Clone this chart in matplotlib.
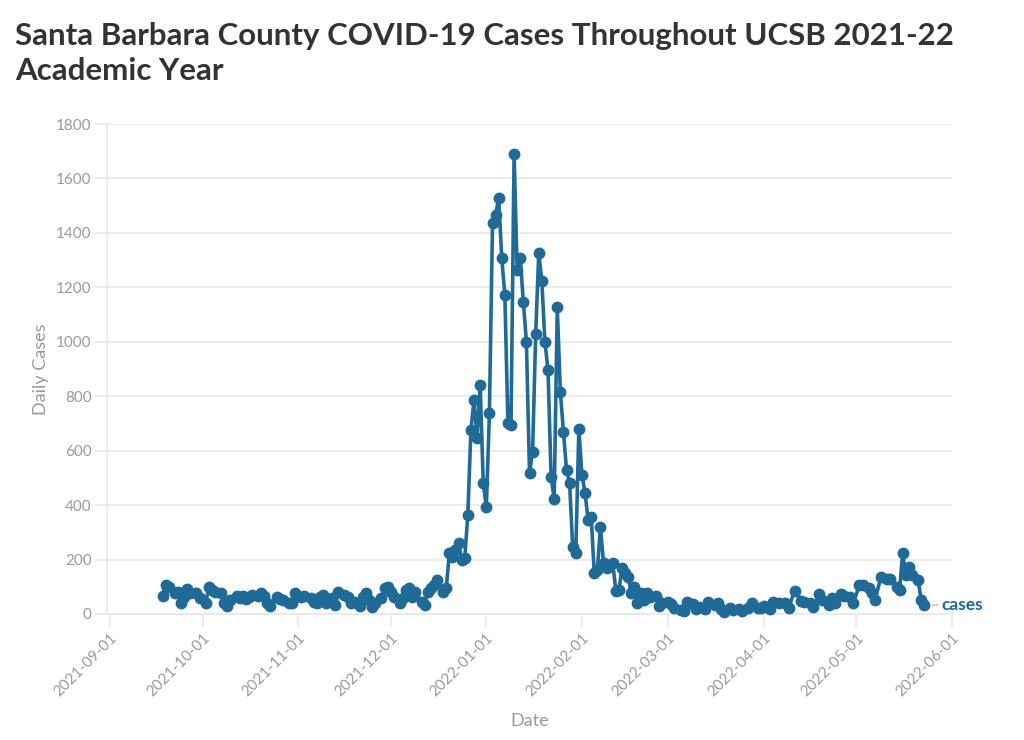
import matplotlib
matplotlib.use("Agg")
import matplotlib.pyplot as plt
import matplotlib.dates as mdates
import pandas as pd

# data (day offset from 2021-09-01, daily cases)
START = "2021-09-01"
day_offsets = [
    17, 18, 19, 21, 22, 23, 24, 25, 26, 28, 29, 31, 32, 33, 34, 36, 37, 38, 39, 41,
    42, 43, 44, 45, 46, 48, 49, 50, 51, 52, 54, 55, 56, 58, 59, 60, 62, 63, 65, 66,
    67, 68, 69, 70, 72, 73, 74, 76, 77, 78, 79, 81, 82, 83, 84, 85, 86, 88, 89, 90,
    91, 92, 94, 95, 96, 97, 98, 99, 101, 102, 103, 104, 105, 106, 108, 109, 110, 111, 112, 113,
    114, 115, 116, 117, 118, 119, 120, 121, 122, 123, 124, 125, 126, 127, 128, 129, 130, 131, 132, 133,
    134, 135, 136, 137, 138, 139, 140, 141, 142, 143, 144, 145, 146, 147, 148, 149, 150, 151, 152, 153,
    154, 155, 156, 157, 158, 159, 160, 161, 163, 164, 165, 166, 167, 168, 169, 170, 171, 172, 173, 174,
    175, 177, 178, 179, 181, 182, 183, 185, 186, 187, 189, 190, 191, 193, 194, 196, 197, 198, 199, 201,
    202, 204, 205, 207, 208, 210, 211, 212, 214, 215, 217, 219, 220, 222, 224, 225, 227, 228, 230, 231,
    233, 234, 235, 237, 238, 240, 241, 243, 244, 246, 247, 248, 250, 252, 253, 255, 256, 257, 258, 259,
    260, 262, 263, 264,
]
cases = [
    66, 107, 98, 76, 82, 42, 64, 91, 78, 76, 58, 39, 100, 88, 82, 76, 42, 29, 51, 66,
    58, 66, 54, 64, 70, 66, 76, 66, 42, 29, 61, 54, 51, 42, 39, 76, 64, 66, 58, 45,
    39, 64, 70, 39, 58, 33, 82, 70, 64, 39, 45, 29, 64, 78, 51, 27, 42, 58, 94, 98,
    82, 64, 39, 58, 88, 94, 64, 82, 45, 33, 82, 94, 107, 125, 82, 94, 223, 211, 235, 260,
    198, 205, 364, 676, 786, 647, 841, 481, 393, 738, 1436, 1466, 1528, 1308, 1172, 702, 694, 1690, 1264, 1308,
    1146, 999, 518, 595, 1029, 1326, 1223, 999, 896, 503, 422, 1128, 816, 669, 529, 481, 246, 224, 680, 511,
    445, 345, 356, 151, 162, 320, 187, 169, 187, 85, 88, 169, 150, 136, 77, 100, 40, 77, 51, 77,
    63, 66, 29, 40, 44, 37, 22, 15, 12, 44, 37, 18, 26, 18, 44, 33, 40, 18, 7, 22,
    15, 18, 12, 22, 40, 22, 22, 29, 18, 44, 40, 41, 22, 86, 49, 45, 39, 27, 73, 51,
    33, 59, 40, 73, 66, 61, 39, 107, 107, 94, 76, 51, 137, 127, 127, 100, 88, 225, 143, 174,
    143, 125, 51, 33,
]
series_name = "cases"

dates = pd.Timestamp(START) + pd.to_timedelta(day_offsets, unit="D")

BLUE = "#1f6a96"
GREY_TXT = "#9a9a9a"
GRID = "#e9e9e9"

plt.rcParams["font.family"] = ["Lato", "DejaVu Sans"]

fig = plt.figure(figsize=(10.24, 7.4), dpi=100)
ax = fig.add_axes([0.1045, 0.1703, 0.8252, 0.6621])

ax.plot(dates, cases, color=BLUE, lw=2.6, marker="o", ms=7.5, zorder=3, clip_on=False)

ax.set_ylim(0, 1800)
ax.set_yticks(range(0, 1801, 200))
ax.set_xlim(pd.Timestamp("2021-08-31"), pd.Timestamp("2022-06-01"))
ax.xaxis.set_major_locator(mdates.MonthLocator())
ax.xaxis.set_major_formatter(mdates.DateFormatter("%Y-%m-%d"))

ax.grid(axis="y", color=GRID, lw=1.3)
ax.set_axisbelow(True)
for s in ["top", "right"]:
    ax.spines[s].set_visible(False)
for s in ["left", "bottom"]:
    ax.spines[s].set_color(GRID)
    ax.spines[s].set_linewidth(1.3)

ax.tick_params(axis="both", colors=GRID, length=9, width=1.3, labelcolor=GREY_TXT, labelsize=11)
ax.tick_params(axis="y", pad=2)
ax.tick_params(axis="x", pad=3)
for lbl in ax.get_xticklabels():
    lbl.set_rotation(45)
    lbl.set_ha("right")
    lbl.set_rotation_mode("anchor")

ax.set_ylabel("Daily Cases", color=GREY_TXT, fontsize=13, labelpad=5)
ax.set_xlabel("Date", color=GREY_TXT, fontsize=13, labelpad=10)

# series label at the end of the line
ax.annotate(series_name, xy=(dates[-1], cases[-1]), xytext=(12, 0), textcoords="offset points",
            color=BLUE, fontsize=12.5, fontweight="bold", va="center", ha="left",
            annotation_clip=False)
ax.annotate("", xy=(dates[-1], cases[-1]), xytext=(10, 0), textcoords="offset points",
            arrowprops=dict(arrowstyle="-", color="#bbbbbb", lw=1, shrinkA=0, shrinkB=6),
            annotation_clip=False)

fig.text(15 / 1024, 1 - 22 / 740,
         "Santa Barbara County COVID-19 Cases Throughout UCSB 2021-22\nAcademic Year",
         fontsize=22.5, fontweight="bold", color="#333333", va="top", ha="left", linespacing=1.32)

fig.savefig("out.png", dpi=100)
